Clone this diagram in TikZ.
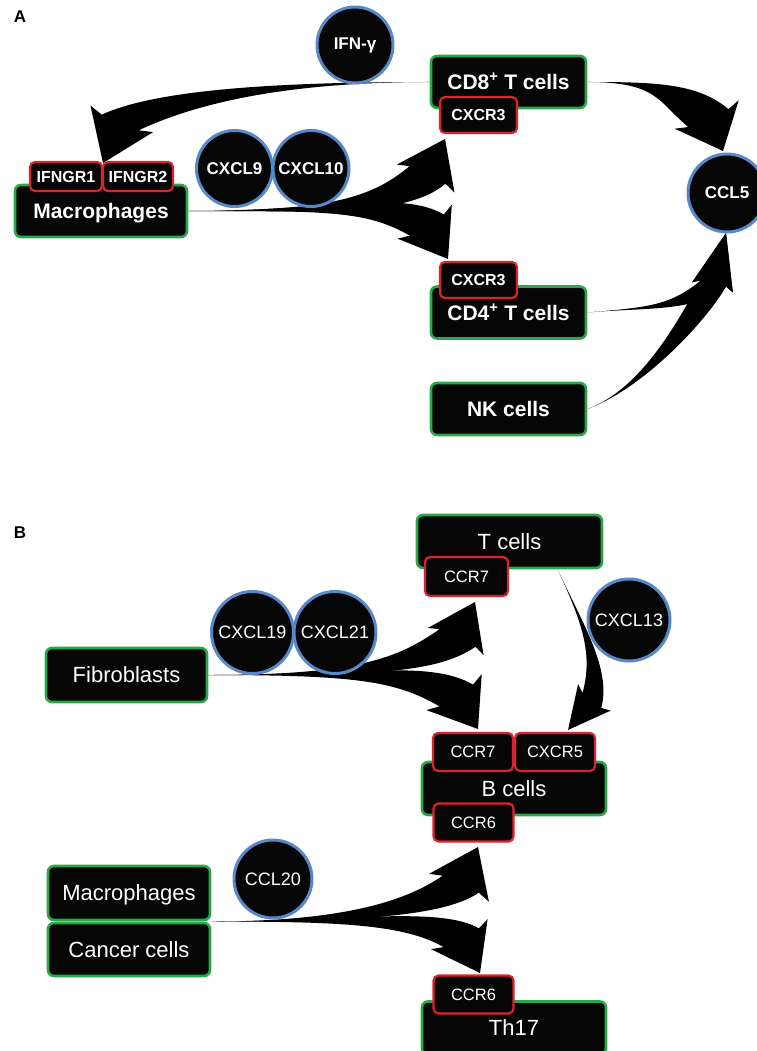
\documentclass[tikz,border=0pt]{standalone}
\usepackage{fontspec}
\setmainfont{Liberation Sans}
\usetikzlibrary{calc,backgrounds}
\definecolor{cellgreen}{RGB}{40,168,72}
\definecolor{recred}{RGB}{222,34,44}
\definecolor{ligblue}{RGB}{88,136,200}
\definecolor{boxblack}{RGB}{6,6,6}

\tikzset{
  head len/.store in=\fhl, head wid/.store in=\fhw,
  shaft wid/.store in=\fsw, head back/.store in=\fbk,
  head len=40, head wid=32, shaft wid=20, head back=4,
  flowfill/.style={fill=black},
  panel/.style={font=\fontsize{17}{20}\selectfont\bfseries},
  cell/.style={draw=cellgreen, line width=2.6pt, fill=boxblack, rounded corners=6pt,
    text=white, inner sep=0pt, text depth=0pt},
  rec/.style={draw=recred, line width=2.2pt, fill=boxblack, rounded corners=5pt,
    text=white, inner sep=0pt, text depth=0pt},
  lig/.style={circle, draw=ligblue, line width=3pt, fill=boxblack, text=white, inner sep=0pt},
  cellA/.style={cell, font=\fontsize{21}{24}\selectfont\bfseries, text height=15pt,
    minimum width=155pt, minimum height=52pt},
  recA/.style={rec, font=\fontsize{16}{19}\selectfont\bfseries, text height=11.5pt,
    minimum width=77pt, minimum height=36pt},
  ligA/.style={lig, font=\fontsize{17}{20}\selectfont\bfseries, minimum size=76pt},
  cellB/.style={cell, font=\fontsize{22}{25}\selectfont, text height=15.8pt,
    minimum width=184pt, minimum height=53pt},
  recB/.style={rec, font=\fontsize{16.5}{19}\selectfont, text height=11.8pt,
    minimum width=80pt, minimum height=38pt},
  ligB/.style={lig, font=\fontsize{18}{21}\selectfont, minimum size=82pt}
}

% tapered curved arrow: [opts]{from}{tip}{out}{out ctl}{end angle}{in ctl}{head angle}
\newcommand\flowarrow[8][]{%
  \begin{scope}[#1]
    \fill[flowfill] (#2)
      .. controls ($(#2)+(#4:#5)$) and ($(#3)+({#8+180}:\fhl)+({#8-90}:\fsw)+({#6+180}:#7)$)
      .. ($(#3)+({#8+180}:\fhl)+({#8-90}:\fsw)$)
      -- ($(#3)+({#8+180}:{\fhl+\fbk})+({#8-90}:\fhw)$)
      -- (#3)
      -- ($(#3)+({#8+180}:{\fhl+\fbk})+({#8+90}:\fhw)$)
      -- ($(#3)+({#8+180}:\fhl)+({#8+90}:\fsw)$)
      .. controls ($(#3)+({#8+180}:\fhl)+({#8+90}:\fsw)+({#6+180}:#7)$) and ($(#2)+(#4:#5)$)
      .. (#2) -- cycle;
  \end{scope}}

\begin{document}
\begin{tikzpicture}[x=1pt,y=-1pt]
  \useasboundingbox (0,0) rectangle (756,1051);

  % A
  \node[panel] (labA) at (20,17) {A};
  \node[cellA] (cd8) at (508.5,82) {CD8\textsuperscript{+} T cells};
  \node[cellA] (cd4) at (508.5,312.5) {CD4\textsuperscript{+} T cells};
  \node[cellA] (nk) at (508.5,409) {NK cells};
  \node[cellA, minimum width=172pt] (mac) at (101,211) {Macrophages};
  \node[recA] (cxcr3a) at (478.5,115) {CXCR3};
  \node[recA] (cxcr3b) at (478.5,280) {CXCR3};
  \node[recA, minimum width=72pt, minimum height=29pt] (ifngr1) at (66,176.5) {IFNGR1};
  \node[recA, minimum width=70pt, minimum height=29pt] (ifngr2) at (138,176.5) {IFNGR2};
  \node[ligA] (ifng) at (355,45) {IFN-γ};
  \node[ligA] (cxcl9) at (234.5,168.5) {CXCL9};
  \node[ligA] (cxcl10) at (311,168.5) {CXCL10};
  \node[ligA, minimum size=78pt] (ccl5) at (727,193) {CCL5};

  \coordinate (tifn) at (103,163);
  \coordinate (tcxa) at (445,139);
  \coordinate (tcxb) at (448,259);
  \coordinate (tccl5a) at (723,151);
  \coordinate (tccl5b) at (726,233);

  % B
  \node[panel] (labB) at (20,533) {B};
  \node[cellB, minimum width=185pt] (tcell) at (509.5,541.5) {T cells};
  \node[cellB] (bcell) at (514,788.5) {B cells};
  \node[cellB] (th17) at (514,1028) {Th17};
  \node[cellB, minimum width=161pt, minimum height=54pt] (fib) at (126.5,675) {Fibroblasts};
  \node[cellB, minimum width=162pt, minimum height=54pt] (mac2) at (129,893) {Macrophages};
  \node[cellB, minimum width=162pt] (canc) at (129,949.5) {Cancer cells};
  \node[recB, minimum width=83pt, minimum height=39pt] (ccr7t) at (466.5,576.5) {CCR7};
  \node[recB] (ccr7b) at (473,752) {CCR7};
  \node[recB] (cxcr5) at (555,752) {CXCR5};
  \node[recB] (ccr6b) at (473.5,822.5) {CCR6};
  \node[recB] (ccr6t) at (473.5,994.5) {CCR6};
  \node[ligB] (cxcl19) at (252.5,632.5) {CXCL19};
  \node[ligB] (cxcl21) at (335,632.5) {CXCL21};
  \node[ligB] (cxcl13) at (629,620) {CXCL13};
  \node[ligB, minimum size=78pt] (ccl20) at (273,879) {CCL20};

  \coordinate (t13) at ($(tcell.south)+(48,0)$);
  \coordinate (c20) at ($(mac2.south east)!.5!(canc.north east)$);
  \coordinate (tccr7t) at (475,602);
  \coordinate (tccr7b) at (478,729);
  \coordinate (tcxcr5) at (568,730);
  \coordinate (tccr6b) at (478,847);
  \coordinate (tccr6t) at (480,973);

  \begin{scope}[on background layer]
    \flowarrow[head len=44, head wid=34]{cd8.west}{tifn}{180}{150}{155}{60}{113}
    \flowarrow{mac.east}{tcxa}{0}{140}{-40}{50}{-64}
    \flowarrow{mac.east}{tcxb}{0}{140}{30}{50}{58}
    \flowarrow[head len=36, head wid=35, shaft wid=22]{cd8.east}{tccl5a}{0}{70}{40}{40}{66}
    \flowarrow[head len=52, head wid=21, shaft wid=13]{cd4.east}{tccl5b}{-5}{60}{-40}{40}{-76}
    \flowarrow[head len=52, head wid=21, shaft wid=13]{nk.east}{tccl5b}{-20}{60}{-60}{40}{-76}
    \flowarrow[head wid=31]{fib.east}{tccr7t}{0}{150}{-35}{50}{-64}
    \flowarrow[head wid=33]{fib.east}{tccr7b}{0}{150}{30}{50}{57}
    \flowarrow[head len=38, head wid=21, shaft wid=12]{t13}{tcxcr5}{65}{60}{105}{40}{129}
    \flowarrow[head len=41, head wid=33]{c20}{tccr6b}{0}{130}{-35}{45}{-65}
    \flowarrow{c20}{tccr6t}{0}{130}{30}{45}{62}
  \end{scope}
\end{tikzpicture}
\end{document}
